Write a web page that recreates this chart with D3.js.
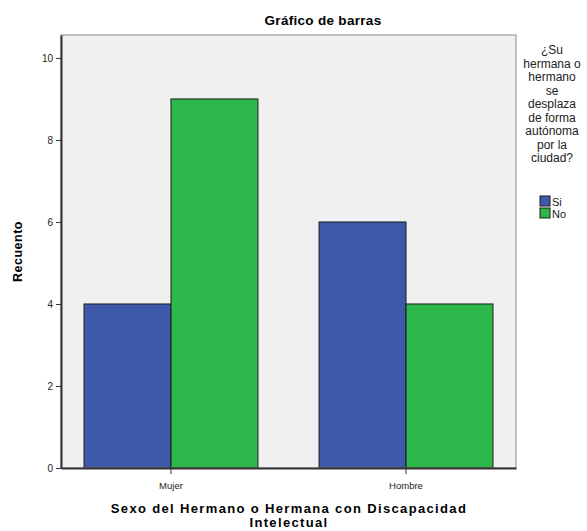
<!DOCTYPE html>
<html>
<head>
<meta charset="utf-8">
<script src="https://cdn.jsdelivr.net/npm/d3@7"></script>
<style>
  body { margin: 0; background: #fff; }
  text { font-family: "Liberation Sans", Arial, sans-serif; }
</style>
</head>
<body>
<div id="chart"></div>
<script>
// data
var categories = ["Mujer", "Hombre"];
var series = ["Si", "No"];
var siValues = [4, 6];
var noValues = [9, 4];
var yTicks = [0, 2, 4, 6, 8, 10];
var legendTitle = ["¿Su", "hermana o", "hermano", "se", "desplaza", "de forma", "autónoma", "por la", "ciudad?"];

var colors = { "Si": "#3e58ab", "No": "#2eb84b" };

var W = 587, H = 531;
var margin = { top: 35, right: 71, bottom: 63, left: 61 },
  width = W - margin.left - margin.right,
  height = H - margin.top - margin.bottom;

var svg = d3.select("#chart")
  .append("svg")
  .attr("width", W)
  .attr("height", H);

var g = svg.append("g")
  .attr("transform", "translate(" + margin.left + "," + margin.top + ")");

// plot background
g.append("rect")
  .attr("width", width)
  .attr("height", height)
  .attr("fill", "#f0f0f0");

var x0 = d3.scaleBand()
  .domain(categories)
  .range([0, width])
  .paddingInner(0.26)
  .paddingOuter(0.098);

var x1 = d3.scaleBand()
  .domain(series)
  .range([0, x0.bandwidth()]);

var y = d3.scaleLinear()
  .domain([0, 10.56])
  .range([height, 0]);

var rows = categories.map(function (c, i) {
  return { cat: c, values: [{ key: "Si", value: siValues[i] }, { key: "No", value: noValues[i] }] };
});

// bars
g.selectAll(".grp")
  .data(rows)
  .enter()
  .append("g")
  .attr("transform", function (d) { return "translate(" + x0(d.cat) + ",0)"; })
  .selectAll("rect")
  .data(function (d) { return d.values; })
  .enter()
  .append("rect")
  .attr("x", function (d) { return x1(d.key); })
  .attr("y", function (d) { return y(d.value); })
  .attr("width", x1.bandwidth())
  .attr("height", function (d) { return height - y(d.value); })
  .attr("fill", function (d) { return colors[d.key]; })
  .attr("stroke", "#1a1a1a")
  .attr("stroke-width", 1);

// frame
g.append("rect")
  .attr("width", width)
  .attr("height", height)
  .attr("fill", "none")
  .attr("stroke", "#888")
  .attr("stroke-width", 1);

// Y axis
var yAxis = g.append("g")
  .call(d3.axisLeft(y).tickValues(yTicks).tickSize(5).tickSizeOuter(0).tickFormat(d3.format("d")));
yAxis.select(".domain").attr("stroke", "#333").attr("stroke-width", 2);
yAxis.selectAll(".tick line").attr("stroke", "#333");
yAxis.selectAll("text").attr("font-size", 10).attr("fill", "#222")
  .attr("font-family", "Liberation Sans, Arial, sans-serif");

// X axis
var xAxis = g.append("g")
  .attr("transform", "translate(0," + height + ")")
  .call(d3.axisBottom(x0).tickSize(6).tickSizeOuter(0));
xAxis.select(".domain").attr("stroke", "#333").attr("stroke-width", 2);
xAxis.selectAll(".tick line").attr("stroke", "#333");
xAxis.selectAll("text").attr("font-size", 9.5).attr("fill", "#222").attr("dy", "1.3em")
  .attr("font-family", "Liberation Sans, Arial, sans-serif");

// title
svg.append("text")
  .attr("x", 323)
  .attr("y", 25)
  .attr("text-anchor", "middle")
  .attr("font-size", 13.5)
  .attr("font-weight", "bold")
  .attr("letter-spacing", 0.3)
  .text("Gráfico de barras");

// y label
svg.append("text")
  .attr("transform", "translate(22," + (margin.top + height / 2) + ") rotate(-90)")
  .attr("text-anchor", "middle")
  .attr("font-size", 12.5)
  .attr("font-weight", "bold")
  .attr("letter-spacing", 0.5)
  .text("Recuento");

// x label
var xl = svg.append("text")
  .attr("text-anchor", "middle")
  .attr("font-size", 13)
  .attr("font-weight", "bold")
  .attr("letter-spacing", 1.35);
xl.append("tspan").attr("x", 289).attr("y", 513).text("Sexo del Hermano o Hermana con Discapacidad");
xl.append("tspan").attr("x", 289).attr("y", 527).text("Intelectual");

// legend
var lg = svg.append("text")
  .attr("text-anchor", "middle")
  .attr("font-size", 12)
  .attr("fill", "#222");
lg.selectAll("tspan")
  .data(legendTitle)
  .enter()
  .append("tspan")
  .attr("x", 552)
  .attr("y", function (d, i) { return 54 + i * 13.5; })
  .text(function (d) { return d; });

var items = svg.selectAll(".leg")
  .data(series)
  .enter()
  .append("g")
  .attr("transform", function (d, i) { return "translate(540," + (196 + i * 12) + ")"; });
items.append("rect")
  .attr("width", 10)
  .attr("height", 10)
  .attr("fill", function (d) { return colors[d]; })
  .attr("stroke", "#1a1a1a");
items.append("text")
  .attr("x", 12)
  .attr("y", 9.5)
  .attr("font-size", 11)
  .attr("fill", "#222")
  .text(function (d) { return d; });
</script>
</body>
</html>
